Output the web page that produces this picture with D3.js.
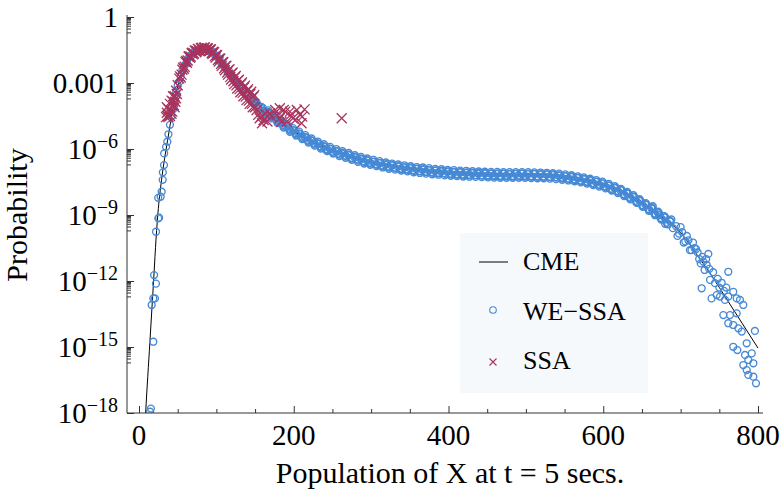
<!DOCTYPE html>
<html><head><meta charset="utf-8">
<script src="https://cdn.jsdelivr.net/npm/d3@7"></script>
<style>
body{margin:0;background:#fff}
svg{display:block}
text{font-family:"Liberation Serif","Times New Roman",serif;fill:#000}
</style>
</head><body>
<svg id="c" width="780" height="497"></svg>
<script>
// ---- data (log10 of probability) ----
const cmeX = [8,8.6,14.1,19.3,22,25,29,33,37,40,45,50,55,60,65,70,75,80,85,90,95,100,105,110,115,120,125,130,135,140,145,150,155,160,170,180,190,200,210,220,230,240,250,260,270,280,290,300,320,340,360,380,400,420,440,460,480,500,520,540,560,580,600,620,640,660,680,700,720,740,760,780,800];
const cmeLog = [-18.4,-18,-14.76,-11.73,-10.1,-8.7,-7.45,-6.45,-5.6,-4.95,-3.95,-3.15,-2.55,-2.12,-1.83,-1.64,-1.52,-1.46,-1.44,-1.48,-1.6,-1.78,-2.0,-2.23,-2.46,-2.69,-2.91,-3.12,-3.32,-3.51,-3.69,-3.86,-4.02,-4.17,-4.45,-4.72,-4.98,-5.2,-5.4,-5.6,-5.77,-5.93,-6.07,-6.2,-6.3,-6.42,-6.52,-6.6,-6.75,-6.86,-6.95,-7.02,-7.08,-7.12,-7.15,-7.17,-7.18,-7.18,-7.2,-7.24,-7.32,-7.45,-7.62,-7.88,-8.25,-8.7,-9.2,-9.8,-10.75,-11.75,-12.85,-13.95,-15.05];

// WE-SSA: sparse left points, three interleaved runs along the band, tail scatter
const weX = [14.3,15.4,18.5,16.4,18.5,20.6,21.9,19.5,22,25,26,24.8,28,29.3,30.6,30.8,32.3,32.5,35,36.6,
38,42,46,50,54,58,62,66,70,74,78,82,86,90,94,98,102,106,110,114,118,122,126,130,134,138,142,146,150,154,158,162,166,170,174,178,182,186,190,194,198,202,206,210,214,218,222,226,230,234,238,242,246,250,254,258,262,266,270,274,278,282,286,290,294,298,302,306,310,314,318,322,326,330,334,338,342,346,350,354,358,362,366,370,374,378,382,386,390,394,398,402,406,410,414,418,422,426,430,434,438,442,446,450,454,458,462,466,470,474,478,482,486,490,494,498,502,506,510,514,518,522,526,530,534,538,542,546,550,554,558,562,566,570,574,578,582,586,590,594,598,602,606,610,614,618,622,626,630,634,638,642,646,650,654,658,662,666,670,674,678,682,686,690,694,698,702,706,710,714,718,722,726,
40,44,48,52,56,60,64,68,72,76,80,84,88,92,96,100,104,108,112,116,120,124,128,132,136,140,144,148,152,156,160,164,168,172,176,180,184,188,192,196,200,204,208,212,216,220,224,228,232,236,240,244,248,252,256,260,264,268,272,276,280,284,288,292,296,300,304,308,312,316,320,324,328,332,336,340,344,348,352,356,360,364,368,372,376,380,384,388,392,396,400,404,408,412,416,420,424,428,432,436,440,444,448,452,456,460,464,468,472,476,480,484,488,492,496,500,504,508,512,516,520,524,528,532,536,540,544,548,552,556,560,564,568,572,576,580,584,588,592,596,600,604,608,612,616,620,624,628,632,636,640,644,648,652,656,660,664,668,672,676,680,684,
163,167,171,175,179,183,187,191,195,199,203,207,211,215,219,223,227,231,235,239,243,247,251,255,259,263,267,271,275,279,283,287,291,295,299,303,307,311,315,319,323,327,331,335,339,343,347,351,355,359,363,367,371,375,379,383,387,391,395,399,403,407,411,415,419,423,427,431,435,439,443,447,451,455,459,463,467,471,475,479,483,487,491,495,499,503,507,511,515,519,523,527,531,535,539,543,547,551,555,559,563,567,571,575,579,583,587,591,595,599,603,607,611,615,619,623,627,631,635,639,643,647,651,655,659,663,667,671,675,679,683,687,
664,672,680,688,696,700,704,708,712,716,720,724,728,731,733,737,742,748,750,756,759,
735.8,729.3,733.7,761.6,727.2,738,744.4,753,740,746.6,750.9,757.3,768,761.6,772.5,776.7,781,755.2,763.8,772.5,761.6,768,774.6,779,796,768,773.3,785.4,783.2,791.9,787.5,781,794,785.4,787.5,794,797.4];
const weLog = [-17.94,-17.8,-14.76,-13.09,-12.79,-12.79,-12.12,-11.73,-9.76,-9.15,-9.12,-8.22,-8.17,-7.94,-7.4,-7.06,-6.73,-6.2,-5.9,-5.67,
-5.33,-4.5,-3.82,-3.12,-2.7,-2.27,-2.02,-1.77,-1.66,-1.53,-1.5,-1.44,-1.46,-1.47,-1.56,-1.73,-1.85,-2.08,-2.21,-2.44,-2.57,-2.81,-2.93,-3.15,-3.25,-3.47,-3.55,-3.76,-3.83,-4.02,-4.08,-4.27,-4.31,-4.49,-4.52,-4.72,-4.74,-4.93,-4.95,-5.1,-5.13,-5.28,-5.29,-5.44,-5.45,-5.61,-5.6,-5.75,-5.73,-5.88,-5.86,-6.01,-5.97,-6.12,-6.08,-6.22,-6.19,-6.3,-6.26,-6.41,-6.36,-6.48,-6.44,-6.57,-6.5,-6.63,-6.58,-6.7,-6.64,-6.75,-6.7,-6.81,-6.74,-6.85,-6.79,-6.9,-6.83,-6.93,-6.87,-6.97,-6.9,-7.01,-6.93,-7.04,-6.96,-7.06,-6.98,-7.09,-7.01,-7.1,-7.03,-7.13,-7.05,-7.15,-7.06,-7.17,-7.08,-7.18,-7.09,-7.19,-7.11,-7.2,-7.1,-7.22,-7.12,-7.21,-7.13,-7.23,-7.12,-7.22,-7.14,-7.24,-7.13,-7.21,-7.12,-7.23,-7.14,-7.24,-7.13,-7.25,-7.15,-7.26,-7.15,-7.27,-7.17,-7.28,-7.2,-7.31,-7.23,-7.35,-7.26,-7.38,-7.31,-7.44,-7.36,-7.49,-7.42,-7.55,-7.48,-7.62,-7.56,-7.7,-7.65,-7.81,-7.75,-7.91,-7.87,-8.05,-8.0,-8.2,-8.16,-8.36,-8.32,-8.55,-8.5,-8.73,-8.68,-8.93,-8.87,-9.14,-9.06,-9.35,-9.28,-9.6,-9.5,-9.85,-9.78,-10.2,-10.15,-10.6,-10.5,-10.7,-11.2,
-4.9,-4.2,-3.42,-2.95,-2.43,-2.16,-1.86,-1.75,-1.57,-1.53,-1.44,-1.46,-1.44,-1.55,-1.61,-1.8,-1.93,-2.17,-2.29,-2.54,-2.66,-2.9,-3.01,-3.23,-3.33,-3.54,-3.62,-3.82,-3.89,-4.09,-4.13,-4.33,-4.35,-4.56,-4.57,-4.78,-4.78,-4.99,-4.97,-5.17,-5.15,-5.34,-5.31,-5.5,-5.47,-5.66,-5.62,-5.8,-5.76,-5.93,-5.89,-6.05,-6.0,-6.16,-6.1,-6.26,-6.19,-6.34,-6.27,-6.43,-6.37,-6.52,-6.45,-6.6,-6.52,-6.66,-6.57,-6.72,-6.63,-6.78,-6.69,-6.83,-6.73,-6.88,-6.78,-6.92,-6.82,-6.96,-6.85,-6.99,-6.89,-7.02,-6.92,-7.05,-6.95,-7.08,-6.97,-7.1,-6.99,-7.13,-7.02,-7.15,-7.04,-7.16,-7.05,-7.18,-7.06,-7.19,-7.08,-7.2,-7.09,-7.21,-7.1,-7.22,-7.11,-7.23,-7.11,-7.24,-7.12,-7.24,-7.12,-7.24,-7.12,-7.24,-7.12,-7.24,-7.12,-7.25,-7.13,-7.26,-7.14,-7.26,-7.15,-7.28,-7.17,-7.3,-7.2,-7.33,-7.23,-7.36,-7.26,-7.41,-7.31,-7.46,-7.36,-7.51,-7.42,-7.58,-7.49,-7.65,-7.56,-7.74,-7.66,-7.85,-7.77,-7.95,-7.88,-8.1,-8.03,-8.25,-8.18,-8.42,-8.36,-8.6,-8.53,-8.78,-8.72,-8.98,-8.92,-9.19,-9.11,-9.42,
-4.38,-4.24,-4.61,-4.46,-4.82,-4.67,-5.03,-4.87,-5.22,-5.05,-5.39,-5.21,-5.55,-5.37,-5.71,-5.52,-5.85,-5.66,-5.98,-5.78,-6.1,-5.9,-6.21,-6.0,-6.32,-6.1,-6.4,-6.18,-6.49,-6.28,-6.58,-6.36,-6.66,-6.43,-6.72,-6.49,-6.78,-6.55,-6.84,-6.61,-6.9,-6.66,-6.94,-6.7,-6.98,-6.74,-7.02,-6.78,-7.06,-6.82,-7.09,-6.84,-7.12,-6.87,-7.15,-6.9,-7.17,-6.92,-7.2,-6.95,-7.22,-6.96,-7.23,-6.98,-7.25,-6.99,-7.26,-7.01,-7.27,-7.02,-7.28,-7.03,-7.29,-7.04,-7.3,-7.04,-7.31,-7.05,-7.31,-7.05,-7.31,-7.05,-7.31,-7.05,-7.31,-7.05,-7.32,-7.06,-7.33,-7.07,-7.33,-7.08,-7.35,-7.1,-7.37,-7.12,-7.4,-7.15,-7.43,-7.19,-7.47,-7.24,-7.52,-7.29,-7.57,-7.35,-7.64,-7.41,-7.71,-7.48,-7.79,-7.58,-7.89,-7.69,-8.0,-7.81,-8.14,-7.95,-8.29,-8.1,-8.45,-8.28,-8.63,-8.46,-8.81,-8.65,-9.01,-8.85,-9.21,-9.05,-9.42,-9.28,
-8.6,-9.0,-9.4,-9.2,-9.95,-9.55,-10.25,-9.95,-10.6,-10.25,-10.55,-11.0,-10.9,-11.5,-11.0,-11.45,-11.6,-11.9,-12.3,-12.45,-12.3,
-10.77,-11.12,-11.27,-11.58,-12.33,-11.95,-12.1,-12.08,-12.79,-12.64,-12.71,-12.86,-12.49,-12.71,-12.79,-12.86,-13.09,-13.55,-13.55,-13.47,-13.92,-14.0,-14.15,-14.3,-14.27,-14.99,-15.14,-14.83,-15.36,-15.29,-15.59,-15.82,-15.74,-16.05,-16.27,-16.35,-16.65];

const ssaX = [35,36,37,38,39,40,41,42,43,44,45,46,47,48,49,50,36,38,40,42,44,46,48,
52,54,56,58,60,62,64,66,68,70,72,74,76,78,80,82,84,86,88,90,92,94,96,98,100,102,104,106,108,110,112,114,116,118,120,122,124,126,128,130,132,134,136,138,140,142,144,146,148,150,
53,55,57,59,61,63,65,67,69,71,73,75,77,79,81,83,85,87,89,91,93,95,97,99,101,103,105,107,109,111,113,115,117,119,121,123,125,127,129,131,133,135,137,139,141,143,145,147,149,
152,154,156,158,159,161,163,166,169,171,176,178,182,182,184,187,189,191,195,196,199,202,204,208,210,211,214,262];
const ssaLog = [-4.55,-4.35,-4.5,-4.2,-4.45,-3.95,-4.25,-3.8,-4.3,-3.85,-4.0,-3.6,-3.85,-3.35,-3.5,-3.1,-4.1,-4.55,-4.5,-4.4,-3.6,-4.1,-3.7,
-2.8,-2.75,-2.4,-2.35,-2.05,-2.08,-1.8,-1.85,-1.65,-1.7,-1.53,-1.6,-1.45,-1.55,-1.42,-1.5,-1.4,-1.5,-1.42,-1.53,-1.47,-1.64,-1.58,-1.78,-1.72,-1.95,-1.88,-2.14,-2.05,-2.33,-2.22,-2.52,-2.4,-2.72,-2.56,-2.92,-2.74,-3.1,-2.9,-3.28,-3.05,-3.45,-3.2,-3.62,-3.35,-3.8,-3.5,-3.95,-3.62,-4.1,
-2.7,-2.62,-2.3,-2.26,-2.0,-1.98,-1.78,-1.8,-1.62,-1.66,-1.52,-1.56,-1.46,-1.52,-1.4,-1.48,-1.39,-1.5,-1.43,-1.56,-1.48,-1.68,-1.6,-1.84,-1.74,-2.02,-1.9,-2.22,-2.06,-2.42,-2.22,-2.62,-2.38,-2.84,-2.52,-3.05,-2.68,-3.25,-2.85,-3.42,-2.98,-3.6,-3.12,-3.78,-3.28,-3.95,-3.4,-4.1,-3.55,
-4.23,-4.45,-4.6,-4.53,-4.83,-4.68,-4.4,-4.75,-4.38,-4.53,-4.23,-4.45,-4.15,-4.6,-4.76,-4.23,-4.3,-4.76,-4.3,-4.45,-4.6,-4.68,-4.23,-4.45,-4.83,-4.53,-4.2,-4.6];

const xTicks = [0,200,400,600,800];
const xMinor = [50,100,150,250,300,350,450,500,550,650,700,750];
const yMajorExp = [0,-3,-6,-9,-12,-15,-18];
const yLabelBase = ["1","0.001","10","10","10","10","10"];
const yLabelSup = ["","","−6","−9","−12","−15","−18"];
const legendNames = ["CME","WE−SSA","SSA"];

const blue = "#4689d5", red = "#a8345e";
const P = v => Math.pow(10, v);

const svg = d3.select("#c");
const x = d3.scaleLinear().domain([0,800]).range([139,758]);
const y = d3.scaleLog().domain([1e-18,1]).range([413,17]);

svg.append("clipPath").attr("id","clip").append("rect")
  .attr("x",127).attr("y",0).attr("width",653).attr("height",413);

// CME line
const cme = cmeX.map((d,i)=>({x:d,p:P(cmeLog[i])}));
svg.append("path").datum(cme).attr("clip-path","url(#clip)")
  .attr("fill","none").attr("stroke","#000").attr("stroke-width",1)
  .attr("d", d3.line().x(d=>x(d.x)).y(d=>y(d.p)).curve(d3.curveMonotoneX));

// WE-SSA circles
const we = weX.map((d,i)=>({x:d,p:P(weLog[i])}));
svg.append("g").attr("clip-path","url(#clip)").selectAll("circle").data(we).join("circle")
  .attr("cx",d=>x(d.x)).attr("cy",d=>y(d.p)).attr("r",3.45)
  .attr("fill","none").attr("stroke",blue).attr("stroke-width",1.35);

// SSA crosses
const ssa = ssaX.map((d,i)=>({x:d,p:P(ssaLog[i])}));
svg.append("g").selectAll("path").data(ssa).join("path")
  .attr("transform",d=>`translate(${x(d.x)},${y(d.p)})`)
  .attr("d","M-5,-5L5,5M-5,5L5,-5")
  .attr("stroke",red).attr("stroke-width",1.3).attr("fill","none");

// axes
const axCol = "#333";
svg.append("line").attr("x1",127).attr("x2",763).attr("y1",413).attr("y2",413).attr("stroke",axCol);
svg.append("line").attr("x1",127).attr("x2",127).attr("y1",15).attr("y2",413).attr("stroke",axCol);

const gx = svg.append("g").attr("transform","translate(0,413)");
gx.call(d3.axisBottom(x).tickValues(xTicks).tickSize(-7).tickFormat(""));
gx.append("g").call(d3.axisBottom(x).tickValues(xMinor).tickSize(-4).tickFormat(""));
gx.selectAll(".domain").remove();
gx.selectAll("line").attr("stroke",axCol);
xTicks.forEach(t=>{
  svg.append("text").attr("x",x(t)).attr("y",445).attr("text-anchor","middle")
    .attr("font-size",29).text(t);
});

const yMajor = yMajorExp.map(P);
const yMinor = [];
yMajorExp.forEach(e=>{ if(e>-18){ for(let m=2;m<=9;m++) yMinor.push(m*P(e-1)); }});
const gy = svg.append("g").attr("transform","translate(127,0)");
gy.call(d3.axisLeft(y).tickValues(yMajor).tickSize(-7).tickFormat(""));
gy.append("g").call(d3.axisLeft(y).tickValues(yMinor).tickSize(-4).tickFormat(""));
gy.selectAll(".domain").remove();
gy.selectAll("line").attr("stroke",axCol);

yMajorExp.forEach((e,i)=>{
  const t = svg.append("text").attr("x",118).attr("y",y(P(e))+10)
    .attr("text-anchor","end").attr("font-size",29);
  t.append("tspan").text(yLabelBase[i]);
  if(yLabelSup[i]) t.append("tspan").attr("font-size",20).attr("dy",-11).text(yLabelSup[i]);
});

// titles
svg.append("text").attr("x",450).attr("y",483).attr("text-anchor","middle")
  .attr("font-size",30).text("Population of X at t = 5 secs.");
svg.append("text").attr("transform","translate(27,215) rotate(-90)").attr("text-anchor","middle")
  .attr("font-size",30).text("Probability");

// legend
const lg = svg.append("g");
lg.append("rect").attr("x",460).attr("y",233).attr("width",188).attr("height",160).attr("fill","#f5f9fb");
lg.append("line").attr("x1",479).attr("x2",508).attr("y1",262).attr("y2",262).attr("stroke","#000");
lg.append("circle").attr("cx",493).attr("cy",310).attr("r",3.3).attr("fill","none").attr("stroke",blue).attr("stroke-width",1.1);
lg.append("path").attr("transform","translate(493,362)").attr("d","M-3.5,-3.5L3.5,3.5M-3.5,3.5L3.5,-3.5").attr("stroke",red).attr("stroke-width",1.1);
legendNames.forEach((n,i)=>{
  lg.append("text").attr("x",523).attr("y",270+i*49.5).attr("font-size",26).text(n);
});
</script>
</body></html>
